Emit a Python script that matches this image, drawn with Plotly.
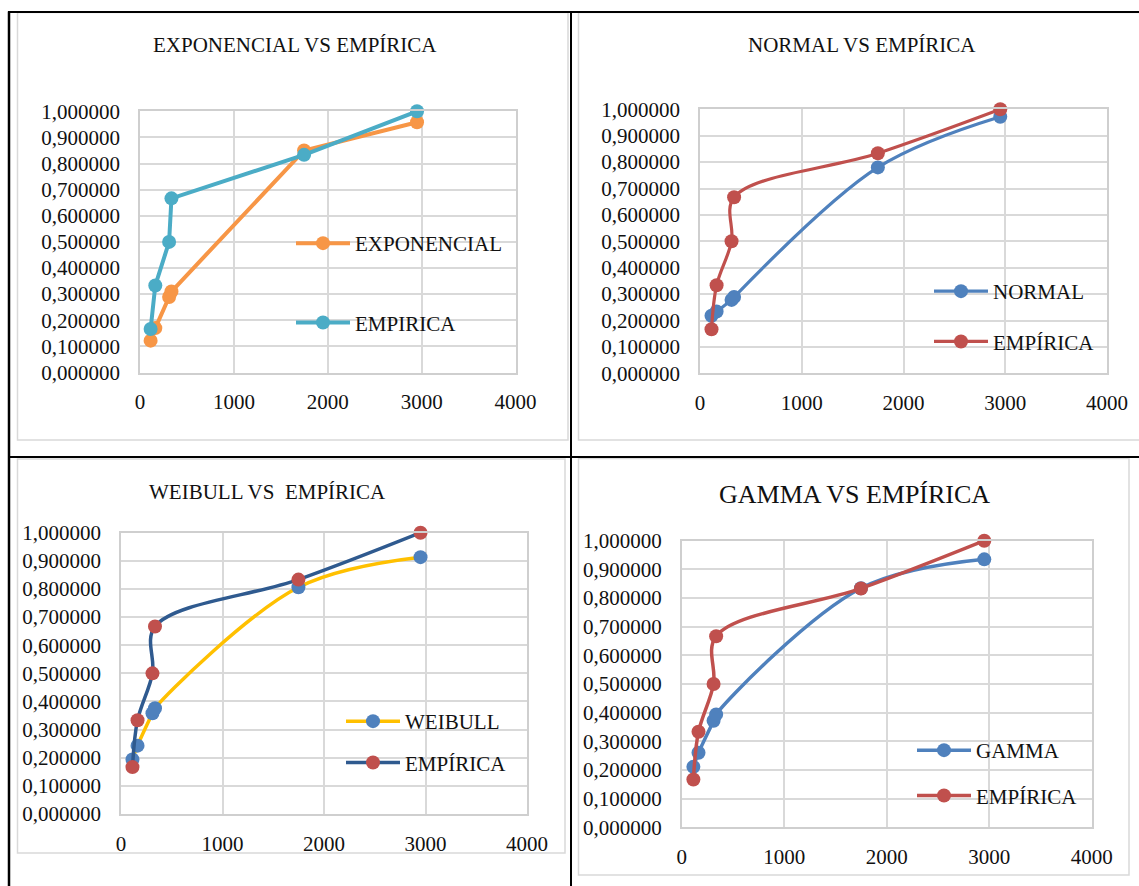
import plotly.graph_objects as go

W, H = 1139, 886

# ---------------- data ----------------
x_vals = [113, 163, 310, 335, 1748, 2951]
empirica = [0.166667, 0.333333, 0.500000, 0.666667, 0.833333, 1.000000]
exponencial = [0.122, 0.170, 0.289, 0.310, 0.850, 0.958]
normal = [0.218, 0.234, 0.278, 0.289, 0.780, 0.972]
weibull = [0.194, 0.243, 0.358, 0.376, 0.806, 0.913]
gamma = [0.211, 0.260, 0.372, 0.394, 0.834, 0.935]

titles = ["EXPONENCIAL VS EMPÍRICA", "NORMAL VS EMPÍRICA", "WEIBULL VS  EMPÍRICA", "GAMMA VS EMPÍRICA"]
x_ticks = [0, 1000, 2000, 3000, 4000]
y_ticks = [0.0, 0.1, 0.2, 0.3, 0.4, 0.5, 0.6, 0.7, 0.8, 0.9, 1.0]

FONT = "Liberation Serif, Times New Roman, serif"
TXT = "#111111"
GRID = "#D9D9D9"


def px(x):
    return x / W


def py(y):
    return 1 - y / H


# plot-area pixel boxes: (left, right, top, bottom)
boxes = [
    (140, 515.5, 111.3, 372.5),
    (700, 1107, 109.3, 373.3),
    (121, 527, 532.7, 814),
    (681.8, 1091.8, 540.7, 827.3),
]

fig = go.Figure()

panels = [
    [
        dict(name="EXPONENCIAL", y=exponencial, lc="#F79646", mc="#F79646", shape="linear", lw=4),
        dict(name="EMPIRICA", y=empirica, lc="#4BACC6", mc="#4BACC6", shape="linear", lw=4),
    ],
    [
        dict(name="NORMAL", y=normal, lc="#4F81BD", mc="#4F81BD", shape="spline", lw=3.2),
        dict(name="EMPÍRICA", y=empirica, lc="#C0504D", mc="#C0504D", shape="spline", lw=3.2),
    ],
    [
        dict(name="WEIBULL", y=weibull, lc="#FFC000", mc="#4F81BD", shape="spline", lw=3.5),
        dict(name="EMPÍRICA", y=empirica, lc="#2F5A8F", mc="#C0504D", shape="spline", lw=3.5),
    ],
    [
        dict(name="GAMMA", y=gamma, lc="#4F81BD", mc="#4F81BD", shape="spline", lw=3.5),
        dict(name="EMPÍRICA", y=empirica, lc="#C0504D", mc="#C0504D", shape="spline", lw=3.5),
    ],
]

legend_names = ["legend", "legend2", "legend3", "legend4"]

for i, series in enumerate(panels):
    ax = "" if i == 0 else str(i + 1)
    for j, s in enumerate(series):
        fig.add_trace(go.Scatter(
            x=x_vals, y=s["y"], name=s["name"], mode="lines+markers",
            line=dict(color=s["lc"], width=s["lw"], shape=s["shape"], smoothing=1.0),
            marker=dict(color=s["mc"], size=14),
            xaxis="x" + ax, yaxis="y" + ax, cliponaxis=False,
            legend=legend_names[i], legendgroup=f"g{i}_{j}",
        ))

layout = dict(
    width=W, height=H,
    margin=dict(l=0, r=0, t=0, b=0, pad=0, autoexpand=False),
    paper_bgcolor="white", plot_bgcolor="white",
    font=dict(family=FONT, size=21, color=TXT),
    separators=",.",
    showlegend=True,
)

for i, (l, r, t, b) in enumerate(boxes):
    ax = "" if i == 0 else str(i + 1)
    layout["xaxis" + ax] = dict(
        domain=[px(l), px(r)], anchor="y" + ax, range=[0, 4000],
        tickvals=x_ticks, tickformat="d", showgrid=True, gridcolor=GRID, gridwidth=1.5,
        showline=True, linecolor="#CFCFCF", linewidth=1.5, mirror=True, zeroline=False,
        ticks="", ticklabelstandoff=10, fixedrange=True, automargin=False,
        tickfont=dict(family=FONT, size=21, color=TXT),
    )
    layout["yaxis" + ax] = dict(
        domain=[py(b), py(t)], anchor="x" + ax, range=[0, 1],
        tickvals=y_ticks, tickformat=".6f", showgrid=True, gridcolor=GRID, gridwidth=1.5,
        showline=True, linecolor="#CFCFCF", linewidth=1.5, mirror=True, zeroline=False,
        ticks="", ticklabelstandoff=14, fixedrange=True, automargin=False,
        tickfont=dict(family=FONT, size=21, color=TXT),
    )

legend_pos = [
    (291, 223, 49),
    (929, 271, 20),
    (341, 701, 11),
    (912, 730, 15),
]
for i, (lx, ly, gap) in enumerate(legend_pos):
    layout[legend_names[i]] = dict(
        x=px(lx), y=py(ly), xanchor="left", yanchor="top",
        bgcolor="rgba(0,0,0,0)", borderwidth=0, tracegroupgap=gap,
        font=dict(family=FONT, size=21, color=TXT), itemwidth=54,
    )

title_pos = [(294.5, 45, 21), (862, 45, 21), (267, 492, 21), (854, 494, 26)]
annotations = []
for (tx, ty, fs), txt in zip(title_pos, titles):
    annotations.append(dict(
        text=txt, x=px(tx), y=py(ty), xref="paper", yref="paper",
        xanchor="center", yanchor="middle", showarrow=False,
        font=dict(family=FONT, size=fs, color=TXT),
    ))
layout["annotations"] = annotations

shapes = []
for (x0, y0, x1, y1) in [(17.5, 12.5, 568, 440), (578.5, 12.5, 1150, 440),
                         (17.5, 459, 565, 853), (578.5, 458.5, 1129, 875)]:
    shapes.append(dict(type="rect", xref="paper", yref="paper",
                       x0=px(x0), x1=px(x1), y0=py(y1), y1=py(y0),
                       line=dict(color="#D9D9D9", width=1.5), fillcolor="rgba(0,0,0,0)", layer="below"))
for (x0, y0, x1, y1, w) in [(9, 11.5, 9, 886, 2.5), (8, 12, 1139, 12, 2),
                            (571, 11, 571, 886, 2), (8, 457, 1139, 457, 2)]:
    shapes.append(dict(type="line", xref="paper", yref="paper",
                       x0=px(x0), x1=px(x1), y0=py(y0), y1=py(y1),
                       line=dict(color="black", width=w)))
layout["shapes"] = shapes

fig.update_layout(**layout)
fig.write_html(
    "out.html",
    config={"displayModeBar": False},
    post_script="document.body.style.margin='0';document.body.style.padding='0';document.body.style.overflow='hidden';",
)
